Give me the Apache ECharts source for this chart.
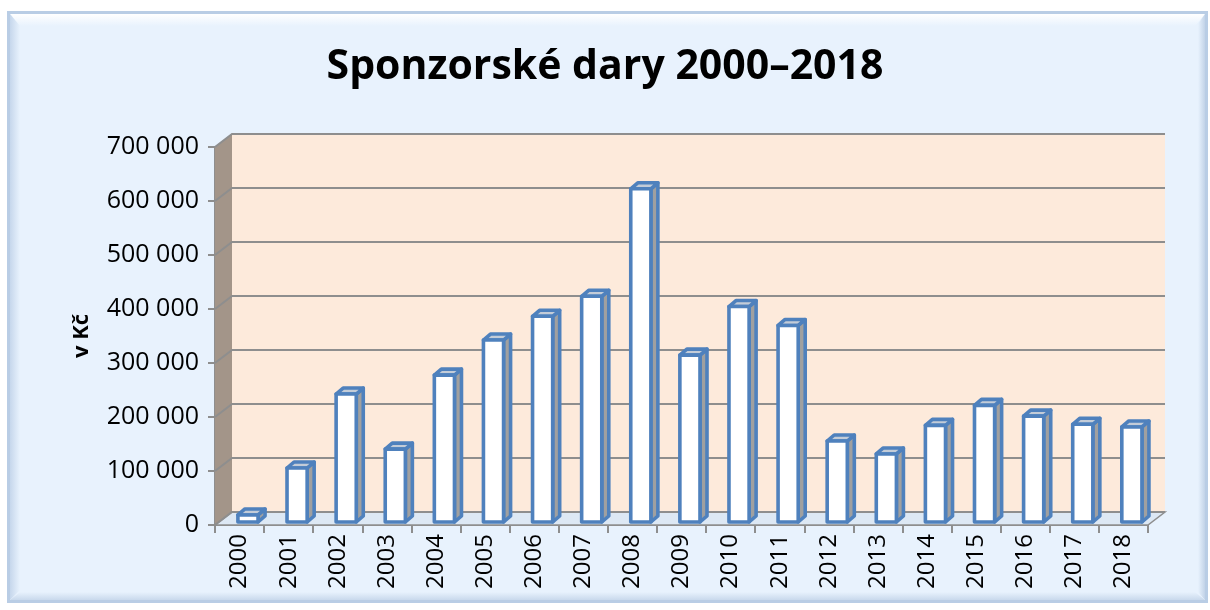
<!DOCTYPE html>
<html>
<head>
<meta charset="utf-8">
<script src="https://cdn.jsdelivr.net/npm/echarts@6/dist/echarts.min.js"></script>
<style>
  html, body { margin: 0; padding: 0; background: #fff; }
  #chart { width: 1210px; height: 610px; }
</style>
</head>
<body>
<div id="chart"></div>
<script>
// Sponzorské dary 2000–2018 — 3D sloupce ve stylu Excelu, kreslené custom series
const YEARS = ['2000', '2001', '2002', '2003', '2004', '2005', '2006', '2007', '2008', '2009',
  '2010', '2011', '2012', '2013', '2014', '2015', '2016', '2017', '2018']
const DARY = [13000, 100000, 237000, 135000, 272000, 337000, 381000, 418000, 617000, 309000,
  399000, 364000, 150000, 126000, 179000, 216000, 196000, 181000, 176000]
const Y_TICKS = [0, 100000, 200000, 300000, 400000, 500000, 600000, 700000]

const C = {
  bg: '#E8F2FD', frame: '#B9CDE5', wall: '#FDEADB', side: '#A39589', floor: '#DDE8F4',
  grid: '#8E8E8E', bar: '#4F81BD', barSide: '#A0A0A0', barTop: '#C3CCD8', text: '#000',
}
const WALL = [17, -13]   // posun zadní stěny proti přední ose
const BAR_OFF = [4, -3]  // přední plocha sloupce je kousek za přední hranou podlahy
const BAR_D = [7, -6]    // hloubka sloupce
const FONT = '"Open Sans", sans-serif'

const fmt = v => String(v).replace(/\B(?=(\d{3})+(?!\d))/g, ' ')

const chart = echarts.init(document.getElementById('chart'))

// stěny, podlaha a mřížka na zadní stěně
function renderWalls(params, api) {
  const cs = params.coordSys
  const x0 = cs.x, x1 = cs.x + cs.width
  const [dx, dy] = WALL
  const y0 = api.coord([0, 0])[1]
  const yTop = api.coord([0, Y_TICKS[Y_TICKS.length - 1]])[1]
  const kids = [
    { type: 'polygon', shape: { points: [[x0 + dx, yTop + dy], [x1 + dx, yTop + dy], [x1 + dx, y0 + dy], [x0 + dx, y0 + dy]] },
      style: { fill: C.wall } },
    { type: 'polygon', shape: { points: [[x0, yTop], [x0 + dx, yTop + dy], [x0 + dx, y0 + dy], [x0, y0]] },
      style: { fill: C.side } },
    { type: 'polygon', shape: { points: [[x0, y0], [x0 + dx, y0 + dy], [x1 + dx, y0 + dy], [x1, y0]] },
      style: { fill: C.floor, stroke: C.grid, lineWidth: 1.5 } },
  ]
  Y_TICKS.forEach(t => {
    const y = api.coord([0, t])[1]
    kids.push({ type: 'polyline', shape: { points: [[x0, y], [x0 + dx, y + dy], [x1 + dx, y + dy]] },
      style: { stroke: C.grid, lineWidth: 2, fill: null } })
  })
  return { type: 'group', children: kids }
}

function renderBar(params, api) {
  const i = api.value(0)
  const v = api.value(1)
  const base = api.coord([i, 0])
  const top = api.coord([i, v])
  const band = api.size([1, 0])[0]
  const w = band * 0.41
  const xl = base[0] - w * 0.28 + BAR_OFF[0]
  const xr = xl + w
  const yb = base[1] + BAR_OFF[1]
  const yt = top[1] + BAR_OFF[1]
  const [dx, dy] = BAR_D
  const stroke = { stroke: C.bar, lineWidth: 3.6, lineJoin: 'round' }
  return {
    type: 'group',
    children: [
      { type: 'polygon', shape: { points: [[xr, yb], [xr + dx, yb + dy], [xr + dx, yt + dy], [xr, yt]] },
        style: Object.assign({ fill: C.barSide }, stroke) },
      { type: 'polygon', shape: { points: [[xl, yt], [xl + dx, yt + dy], [xr + dx, yt + dy], [xr, yt]] },
        style: Object.assign({ fill: C.barTop }, stroke) },
      { type: 'rect', shape: { x: xl, y: yt, width: w, height: yb - yt },
        style: Object.assign({ fill: '#fff' }, stroke) },
    ],
  }
}

chart.setOption({
  backgroundColor: '#fff',
  animation: false,
  title: {
    text: 'Sponzorské dary 2000–2018',
    left: 'center', top: 42,
    textStyle: { fontFamily: FONT, fontWeight: 'bold', fontSize: 41, color: C.text },
  },
  graphic: [
    { type: 'rect', z: -10, shape: { x: 8.5, y: 12.5, width: 1198, height: 589 },
      style: { fill: C.bg, stroke: C.frame, lineWidth: 3 } },
    { type: 'polygon', z: -9, shape: { points: [[10, 14], [1205, 14], [1195, 26], [20, 26]] },
      style: { fill: new echarts.graphic.LinearGradient(0, 0, 0, 1, [{ offset: 0, color: '#ffffff' }, { offset: 1, color: C.bg }]) } },
    { type: 'polygon', z: -9, shape: { points: [[10, 14], [20, 26], [20, 590], [10, 600]] },
      style: { fill: new echarts.graphic.LinearGradient(0, 0, 1, 0, [{ offset: 0, color: '#C6D7EC' }, { offset: 1, color: C.bg }]) } },
    { type: 'polygon', z: -9, shape: { points: [[10, 600], [20, 592], [1195, 592], [1205, 600]] },
      style: { fill: new echarts.graphic.LinearGradient(0, 0, 0, 1, [{ offset: 0, color: C.bg }, { offset: 1, color: '#C9D9EC' }]) } },
    { type: 'polygon', z: -9, shape: { points: [[1205, 14], [1205, 600], [1198, 592], [1198, 24]] },
      style: { fill: new echarts.graphic.LinearGradient(0, 0, 1, 0, [{ offset: 0, color: C.bg }, { offset: 1, color: '#C2D3E8' }]) } },
  ],
  grid: { left: 215, top: 147, width: 933, height: 378 },
  xAxis: {
    type: 'category', data: YEARS,
    axisLine: { lineStyle: { color: C.grid, width: 2 } },
    axisTick: { show: true, length: 8, lineStyle: { color: C.grid, width: 2 } },
    axisLabel: { rotate: 90, margin: 9, fontFamily: FONT, fontSize: 24, color: C.text },
  },
  yAxis: {
    type: 'value', min: 0, max: 700000, interval: 100000,
    name: 'v Kč', nameLocation: 'middle', nameGap: 122, nameRotate: 90,
    nameTextStyle: { fontFamily: FONT, fontWeight: 'bold', fontSize: 22, color: C.text },
    axisLine: { show: true, lineStyle: { color: C.grid, width: 2 } },
    axisTick: { show: true, length: 7, lineStyle: { color: C.grid, width: 2 } },
    axisLabel: { margin: 16, fontFamily: FONT, fontSize: 25, color: C.text, formatter: fmt },
    splitLine: { show: false },
  },
  series: [
    { type: 'custom', silent: true, z: 1, renderItem: renderWalls, data: [[0, 0]] },
    { type: 'custom', z: 3, renderItem: renderBar, encode: { x: 0, y: 1 },
      data: DARY.map((v, i) => [i, v]) },
  ],
})
</script>
</body>
</html>
